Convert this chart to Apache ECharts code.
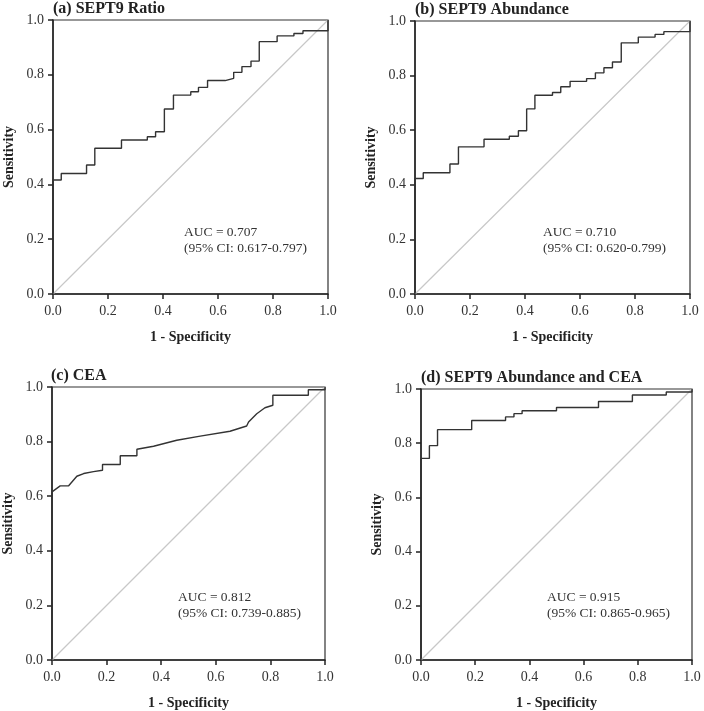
<!DOCTYPE html>
<html>
<head>
<meta charset="utf-8">
<script src="https://cdn.jsdelivr.net/npm/echarts@6/dist/echarts.min.js"></script>
<style>html,body{margin:0;padding:0;background:#fff}#chart{width:704px;height:711px}</style>
</head>
<body>
<div id="chart"></div>
<script>
// ---- Data (1 - specificity, sensitivity) ----
const panelTitles = ['(a) SEPT9 Ratio', '(b) SEPT9 Abundance', '(c) CEA', '(d) SEPT9 Abundance and CEA'];
const aucLines = [
  ['AUC = 0.707', '(95% CI: 0.617-0.797)'],
  ['AUC = 0.710', '(95% CI: 0.620-0.799)'],
  ['AUC = 0.812', '(95% CI: 0.739-0.885)'],
  ['AUC = 0.915', '(95% CI: 0.865-0.965)']
];
const tickValues = [0.0, 0.2, 0.4, 0.6, 0.8, 1.0];

const aFpr = [0, 0, 0.03, 0.03, 0.122, 0.122, 0.152, 0.152, 0.249, 0.249, 0.343, 0.343, 0.373, 0.373, 0.405, 0.405, 0.438, 0.438, 0.501, 0.501, 0.529, 0.529, 0.562, 0.562, 0.626, 0.657, 0.657, 0.687, 0.687, 0.72, 0.72, 0.75, 0.75, 0.815, 0.815, 0.876, 0.876, 0.909, 0.909, 1, 1];
const aTpr = [0, 0.416, 0.416, 0.44, 0.44, 0.471, 0.471, 0.532, 0.532, 0.562, 0.562, 0.574, 0.574, 0.592, 0.592, 0.675, 0.675, 0.726, 0.726, 0.738, 0.738, 0.754, 0.754, 0.779, 0.779, 0.787, 0.809, 0.809, 0.83, 0.83, 0.85, 0.85, 0.921, 0.921, 0.942, 0.942, 0.951, 0.951, 0.961, 0.961, 1];

const bFpr = [0, 0, 0.03, 0.03, 0.127, 0.127, 0.158, 0.158, 0.251, 0.251, 0.343, 0.343, 0.376, 0.376, 0.406, 0.406, 0.436, 0.436, 0.5, 0.5, 0.53, 0.53, 0.564, 0.564, 0.624, 0.624, 0.656, 0.656, 0.687, 0.687, 0.718, 0.718, 0.75, 0.75, 0.812, 0.812, 0.873, 0.873, 0.905, 0.905, 1, 1];
const bTpr = [0, 0.423, 0.423, 0.444, 0.444, 0.476, 0.476, 0.539, 0.539, 0.567, 0.567, 0.578, 0.578, 0.598, 0.598, 0.678, 0.678, 0.728, 0.728, 0.738, 0.738, 0.759, 0.759, 0.779, 0.779, 0.789, 0.789, 0.81, 0.81, 0.829, 0.829, 0.85, 0.85, 0.92, 0.92, 0.941, 0.941, 0.951, 0.951, 0.961, 0.961, 1];

const cFpr = [0, 0, 0.03, 0.061, 0.091, 0.116, 0.152, 0.185, 0.185, 0.25, 0.25, 0.311, 0.311, 0.372, 0.457, 0.543, 0.652, 0.713, 0.72, 0.75, 0.78, 0.809, 0.809, 0.939, 0.939, 1, 1];
const cTpr = [0, 0.616, 0.638, 0.638, 0.673, 0.683, 0.69, 0.695, 0.716, 0.716, 0.748, 0.748, 0.772, 0.783, 0.805, 0.82, 0.838, 0.857, 0.872, 0.902, 0.924, 0.933, 0.97, 0.97, 0.99, 0.99, 1];

const dFpr = [0, 0, 0.031, 0.031, 0.061, 0.061, 0.187, 0.187, 0.312, 0.312, 0.343, 0.343, 0.373, 0.373, 0.5, 0.5, 0.655, 0.655, 0.78, 0.78, 0.905, 0.905, 1, 1];
const dTpr = [0, 0.744, 0.744, 0.791, 0.791, 0.85, 0.85, 0.884, 0.884, 0.897, 0.897, 0.909, 0.909, 0.92, 0.92, 0.932, 0.932, 0.954, 0.954, 0.978, 0.978, 0.989, 0.989, 1];

const refLine = [[0, 0], [1, 1]];

// ---- Layout / styles ----
const SERIF = '"Liberation Serif", "Times New Roman", serif';
const grids = [
  {left: 53, top: 20, width: 275, height: 274},
  {left: 415, top: 21, width: 275, height: 273},
  {left: 51, top: 387, width: 274, height: 273},
  {left: 421, top: 389, width: 271, height: 271}
];
const curves = [[aFpr, aTpr], [bFpr, bTpr], [cFpr, cTpr], [dFpr, dTpr]];

const zip = (xs, ys) => xs.map((x, i) => [x, ys[i]]);

const option = {
  backgroundColor: '#fff',
  animation: false,
  grid: grids.map(g => Object.assign({show: true, borderColor: '#333', borderWidth: 1.2, backgroundColor: 'transparent'}, g)),
  title: panelTitles.map((t, i) => ({
    text: t,
    left: grids[i].left,
    top: grids[i].top - 19,
    padding: 0,
    textStyle: {fontFamily: SERIF, fontWeight: 'bold', fontSize: 16, color: '#222'}
  })),
  xAxis: grids.map((g, i) => ({
    type: 'value', gridIndex: i, min: 0, max: 1, interval: 0.2,
    name: '1 - Specificity', nameLocation: 'middle', nameGap: 36,
    nameTextStyle: {fontFamily: SERIF, fontWeight: 'bold', fontSize: 14, color: '#222'},
    axisLine: {show: true, lineStyle: {color: '#222', width: 1.5}},
    axisTick: {show: true, length: 5, lineStyle: {color: '#222', width: 1.5}},
    axisLabel: {fontFamily: SERIF, fontSize: 14, color: '#333', margin: 10, formatter: v => v.toFixed(1)},
    splitLine: {show: false}
  })),
  yAxis: grids.map((g, i) => ({
    type: 'value', gridIndex: i, min: 0, max: 1, interval: 0.2,
    name: 'Sensitivity', nameLocation: 'middle', nameGap: 37,
    nameTextStyle: {fontFamily: SERIF, fontWeight: 'bold', fontSize: 14, color: '#222'},
    axisLine: {show: true, lineStyle: {color: '#222', width: 1.5}},
    axisTick: {show: true, length: 5, lineStyle: {color: '#222', width: 1.5}},
    axisLabel: {fontFamily: SERIF, fontSize: 14, color: '#333', margin: 9, formatter: v => v.toFixed(1)},
    splitLine: {show: false}
  })),
  series: []
};

curves.forEach((c, i) => {
  option.series.push({
    type: 'line', xAxisIndex: i, yAxisIndex: i, data: refLine,
    symbol: 'none', silent: true,
    lineStyle: {color: '#c8c8c8', width: 1.2}
  });
  option.series.push({
    type: 'line', xAxisIndex: i, yAxisIndex: i, data: zip(c[0], c[1]),
    symbol: 'none', silent: true,
    lineStyle: {color: '#333', width: 1.4}
  });
});

const annoPos = [[184, 224], [543, 224], [178, 589], [547, 589]];
option.graphic = aucLines.map((lines, i) => ({
  type: 'text', left: annoPos[i][0], top: annoPos[i][1],
  style: {text: lines.join('\n'), fontFamily: SERIF, fontSize: 13.5, lineHeight: 16, fill: '#333'}
}));

const chart = echarts.init(document.getElementById('chart'), null, {renderer: 'canvas'});
chart.setOption(option);
</script>
</body>
</html>
